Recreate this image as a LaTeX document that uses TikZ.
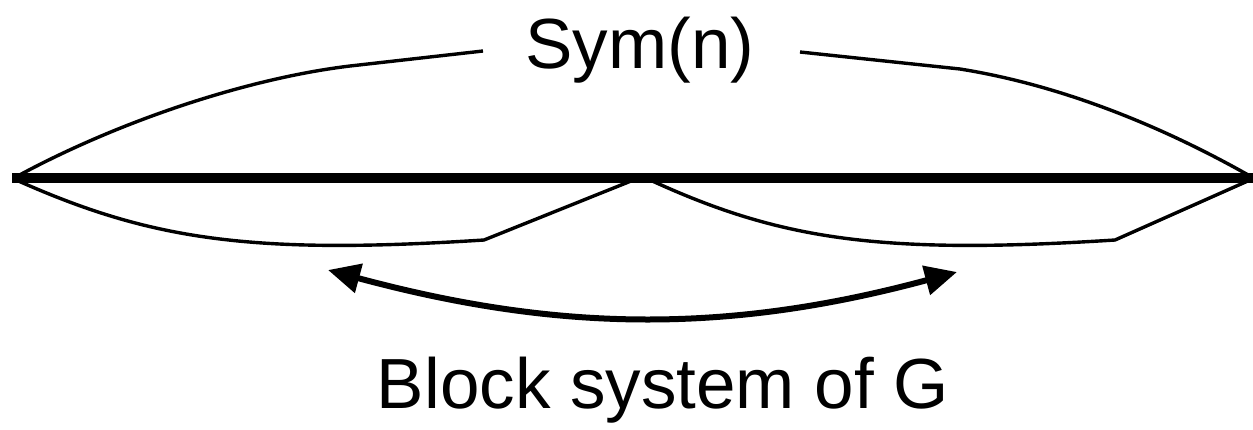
\documentclass[tikz,border=0pt]{standalone}
\usepackage{fontspec}
\setmainfont{Liberation Sans}
\usetikzlibrary{arrows.meta}
\begin{document}
\begin{tikzpicture}[x=1pt,y=-1pt,
  thinline/.style={line width=3.4pt,line join=round},
  axisline/.style={line width=9.5pt},
  swaparrow/.style={line width=6pt,{Triangle[length=32pt,width=29pt]}-{Triangle[length=32pt,width=29pt]}},
  lbl/.style={font=\fontsize{71}{85}\selectfont,inner sep=0pt,anchor=base}]
\useasboundingbox (0,0) rectangle (1253,429);
% axis
\coordinate (L) at (12,178);
\coordinate (R) at (1253,178);
\draw[axisline] (L) -- (R);
% labels
\node[lbl] (sym) at (640,68) {Sym(n)};
\node[lbl] (blk) at (663,408) {Block system of G};
% upper brace
\coordinate (UL) at (14,178);
\coordinate (UR) at (1250,176);
\coordinate (ULk) at (350,66);
\coordinate (ULe) at (483,51);
\coordinate (URs) at (800,52);
\coordinate (URk) at (960,69);
\draw[thinline] (UL) .. controls (120,120) and (250,78) .. (ULk) -- (ULe);
\draw[thinline] (URs) -- (URk) .. controls (1060,85) and (1160,125) .. (UR);
% lower braces
\coordinate (LLs) at (14,179);
\coordinate (LLk) at (484,240);
\coordinate (LLe) at (636,179);
\coordinate (LRs) at (648,179);
\coordinate (LRk) at (1115,240);
\coordinate (LRe) at (1250,180);
\draw[thinline] (LLs) .. controls (150,240) and (250,255) .. (LLk) -- (LLe);
\draw[thinline] (LRs) .. controls (780,240) and (880,255) .. (LRk) -- (LRe);
% arrow
\coordinate (A1) at (328,270);
\coordinate (A2) at (957,272);
\draw[swaparrow] (A1) .. controls (558,332) and (727,334) .. (A2);
\end{tikzpicture}
\end{document}
